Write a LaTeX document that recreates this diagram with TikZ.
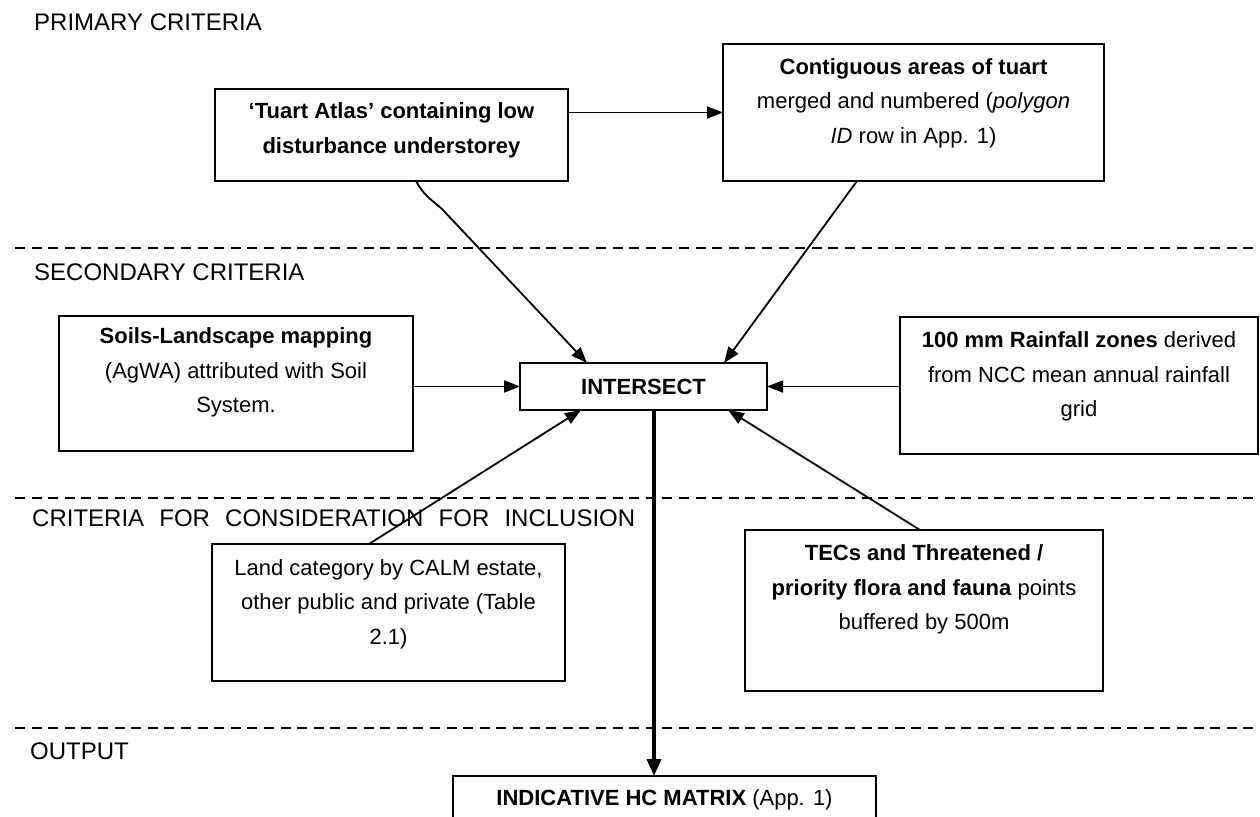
\documentclass[tikz,border=0pt]{standalone}
\usepackage{fontspec}
\setmainfont{Liberation Sans}
\usetikzlibrary{arrows.meta}
\tikzset{
  box/.style={draw, line width=1.8pt, inner sep=0pt, outer sep=0pt},
  btxt/.style={align=center, inner sep=0pt, font=\fontsize{22}{34.5}\selectfont},
  sec/.style={anchor=west, inner sep=0pt, font=\fontsize{24}{28}\selectfont},
  sepline/.style={line width=1.5pt, dash pattern=on 10pt off 6.6pt},
  con/.style={line width=1.8pt, -{Triangle[length=16pt,width=12pt]}},
  thickcon/.style={line width=3.8pt, -{Triangle[length=17pt,width=14pt]}},
}
\begin{document}
\begin{tikzpicture}[x=1pt,y=-1pt]
\useasboundingbox (0,0) rectangle (1260,816);
\clip (0,0) rectangle (1260,816);
\fill[white] (0,0) rectangle (1260,816);

% section labels
\node[sec] (lprim) at (34,22) {PRIMARY CRITERIA};
\node[sec] (lsec) at (34,272) {SECONDARY CRITERIA};
\node[sec] (lcons) at (32,518) {\makebox[603pt][s]{CRITERIA FOR CONSIDERATION FOR INCLUSION}};
\node[sec] (lout) at (30,751) {OUTPUT};

% separators
\draw[sepline] (15,248) -- (1255,248);
\draw[sepline] (15,498) -- (1255,498);
\draw[sepline] (15,728) -- (1255,728);

% boxes
\node[box, minimum width=353pt, minimum height=92pt] (tuart) at (391.5,135) {};
\node[btxt] (tuartT) at (391.5,130.5) {\textbf{`Tuart Atlas' containing low}\\\textbf{disturbance understorey}};

\node[box, minimum width=381pt, minimum height=137pt] (contig) at (913.5,112.5) {};
\node[btxt] (contigT) at (913.5,103) {\textbf{Contiguous areas of tuart}\\merged and numbered (\textit{polygon}\\\textit{ID} row in App. 1)};

\node[box, minimum width=354pt, minimum height=135pt] (soils) at (236,383.5) {};
\node[btxt] (soilsT) at (236,372.5) {\textbf{Soils-Landscape mapping}\\(AgWA) attributed with Soil\\System.};

\node[box, minimum width=247pt, minimum height=47pt, font=\fontsize{22}{26}\selectfont\bfseries] (isect) at (643.5,386.5) {INTERSECT};

\node[box, minimum width=358pt, minimum height=137pt] (rain) at (1079,385.5) {};
\node[btxt] (rainT) at (1079,376.5) {\textbf{100 mm Rainfall zones} derived\\from NCC mean annual rainfall\\grid};

\node[box, minimum width=353pt, minimum height=137pt] (land) at (388.5,612.5) {};
\node[btxt] (landT) at (388.5,604) {Land category by CALM estate,\\other public and private (Table\\2.1)};

\node[box, minimum width=358pt, minimum height=161pt] (tecs) at (924,610.5) {};
\node[btxt] (tecsT) at (924,589.5) {\textbf{TECs and Threatened /}\\\textbf{priority flora and fauna} points\\buffered by 500m};

\node[box, minimum width=423pt, minimum height=68pt] (indic) at (664.5,810) {};
\node[btxt] (indicT) at (664.5,800) {\textbf{INDICATIVE HC MATRIX} (App. 1)};

% connectors
\draw[con] (tuart.east |- contig.west) -- (contig.west);
\draw[con] ([xshift=24.5pt]tuart.south) .. controls (424,196) and (432,200) .. (442,209) -- ([xshift=-56.5pt]isect.north);
\draw[con] ([xshift=-56.5pt]contig.south) -- ([xshift=80.5pt]isect.north);
\draw[con] (soils.east |- isect.west) -- (isect.west);
\draw[con] (rain.west |- isect.east) -- (isect.east);
\draw[con] ([xshift=-19.5pt]land.north) -- ([xshift=-62.5pt]isect.south);
\draw[con] ([xshift=-4pt]tecs.north) -- ([xshift=84.5pt]isect.south);
\draw[thickcon] ([xshift=10.5pt]isect.south) -- ([xshift=10.5pt]isect.south |- indic.north);
\end{tikzpicture}
\end{document}
